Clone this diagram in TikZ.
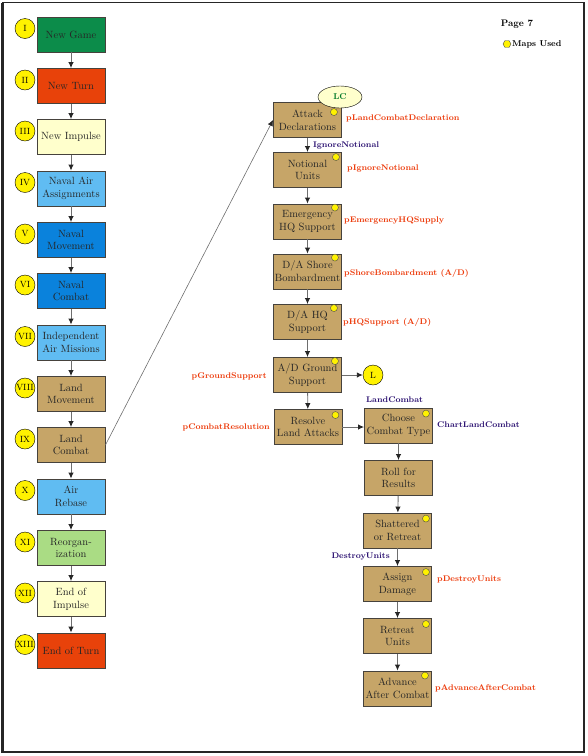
\documentclass[tikz,border=0pt]{standalone}
\usepackage{tikz}
\usetikzlibrary{arrows.meta,shapes.geometric}

\definecolor{gamegreen}{RGB}{12,140,74}
\definecolor{turnred}{RGB}{232,66,10}
\definecolor{paleyel}{RGB}{255,255,204}
\definecolor{airblue}{RGB}{96,188,242}
\definecolor{navblue}{RGB}{10,130,220}
\definecolor{landtan}{RGB}{198,165,104}
\definecolor{orggreen}{RGB}{170,220,132}
\definecolor{numyel}{RGB}{255,242,0}
\definecolor{boxline}{RGB}{70,66,60}
\definecolor{arrgray}{RGB}{110,110,110}
\definecolor{labred}{RGB}{236,58,10}
\definecolor{labblue}{RGB}{42,16,112}
\definecolor{lcgreen}{RGB}{0,120,40}

\begin{document}
\begin{tikzpicture}[x=1pt,y=-1pt,
  stepbox/.style={draw=boxline,line width=0.9pt,minimum width=68pt,minimum height=35pt,
    text width=66pt,inner sep=1pt,align=center,text=black!85,
    font=\fontsize{10.5}{12.8}\selectfont},
  numdot/.style={draw,circle,fill=numyel,minimum size=20pt,inner sep=0pt,
    font=\fontsize{9}{9}\selectfont},
  mapdot/.style={draw=black!70,circle,fill=numyel,minimum size=7pt,inner sep=0pt},
  redlab/.style={text=labred,inner sep=0pt,font=\bfseries\fontsize{8.2}{9}\selectfont},
  bluelab/.style={text=labblue,inner sep=0pt,font=\bfseries\fontsize{8.2}{9}\selectfont},
  flow/.style={-{Latex[length=6pt,width=5.5pt,color=black!85]},draw=arrgray,line width=0.9pt}]

  % page and legend
  \useasboundingbox (0,0) rectangle (588,756);
  \draw[black!85,line width=1pt] (2.5,2.5) rectangle (584,752);
  \draw[black!85,line width=2.6pt] (2.5,2.5) -- (2.5,752) -- (584,752) -- (584,2.5);
  \node[inner sep=0pt,font=\bfseries\fontsize{9.5}{10}\selectfont] (P7) at (517,24) {Page 7};
  \node[draw=black!70,regular polygon,regular polygon sides=6,fill=numyel,minimum size=8pt,inner sep=0pt] (MD) at (507,44) {};
  \node[inner sep=0pt,anchor=west,font=\bfseries\fontsize{8.5}{9}\selectfont] (MU) at (512,44) {Maps Used};

  % sequence of play
  \node[stepbox,fill=gamegreen] (N1) at (71,34.5) {New Game};
  \node[stepbox,fill=turnred] (N2) at (71,86) {New Turn};
  \node[stepbox,fill=paleyel] (N3) at (71,137) {New Impulse};
  \node[stepbox,fill=airblue] (N4) at (71,188.5) {Naval Air\\Assignments};
  \node[stepbox,fill=navblue] (N5) at (71,240) {Naval\\Movement};
  \node[stepbox,fill=navblue] (N6) at (71,291) {Naval\\Combat};
  \node[stepbox,fill=airblue] (N7) at (71,342.5) {Independent\\Air Missions};
  \node[stepbox,fill=landtan] (N8) at (71,394) {Land\\Movement};
  \node[stepbox,fill=landtan] (N9) at (71,445) {Land\\Combat};
  \node[stepbox,fill=airblue] (N10) at (71,496.5) {Air\\Rebase};
  \node[stepbox,fill=orggreen] (N11) at (71,548) {Reorgan-\\ization};
  \node[stepbox,fill=paleyel] (N12) at (71,599) {End of\\Impulse};
  \node[stepbox,fill=turnred] (N13) at (71,650.5) {End of Turn};

  \node[numdot] (R1) at (25,28.5) {I};
  \node[numdot] (R2) at (25,80) {II};
  \node[numdot] (R3) at (25,131) {III};
  \node[numdot] (R4) at (25,182.5) {IV};
  \node[numdot] (R5) at (25,234) {V};
  \node[numdot] (R6) at (25,285) {VI};
  \node[numdot] (R7) at (25,336.5) {VII};
  \node[numdot] (R8) at (25,388) {VIII};
  \node[numdot] (R9) at (25,439) {IX};
  \node[numdot] (R10) at (25,490.5) {X};
  \node[numdot] (R11) at (25,542) {XI};
  \node[numdot] (R12) at (25,593) {XII};
  \node[numdot] (R13) at (25,644.5) {XIII};

  \path (N1) edge[flow] (N2)  (N2) edge[flow] (N3)  (N3) edge[flow] (N4)
    (N4) edge[flow] (N5)  (N5) edge[flow] (N6)  (N6) edge[flow] (N7)
    (N7) edge[flow] (N8)  (N8) edge[flow] (N9)  (N9) edge[flow] (N10)
    (N10) edge[flow] (N11)  (N11) edge[flow] (N12)  (N12) edge[flow] (N13);

  % land combat steps
  \node[stepbox,fill=landtan] (A1) at (307.5,120) {Attack\\Declarations};
  \node[stepbox,fill=landtan] (A2) at (307.5,170) {Notional\\Units};
  \node[stepbox,fill=landtan] (A3) at (307.5,221.5) {Emergency\\HQ Support};
  \node[stepbox,fill=landtan] (A4) at (307.5,271.5) {D/A Shore\\Bombardment};
  \node[stepbox,fill=landtan] (A5) at (307.5,322) {D/A HQ\\Support};
  \node[stepbox,fill=landtan] (A6) at (307.5,375) {A/D Ground\\Support};
  \node[stepbox,fill=landtan] (A7) at (308,427) {Resolve\\Land Attacks};
  \node[stepbox,fill=landtan] (B1) at (398.5,425.5) {Choose\\Combat Type};
  \node[stepbox,fill=landtan] (B2) at (398.5,478) {Roll for\\Results};
  \node[stepbox,fill=landtan] (B3) at (397.5,530.5) {Shattered\\or Retreat};
  \node[stepbox,fill=landtan] (B4) at (397.5,584) {Assign\\Damage};
  \node[stepbox,fill=landtan] (B5) at (397.5,636) {Retreat\\Units};
  \node[stepbox,fill=landtan] (B6) at (397.5,688.5) {Advance\\After Combat};

  \node[draw,ellipse,fill=paleyel,minimum width=44pt,minimum height=22pt,inner sep=0pt,
    text=lcgreen,font=\bfseries\fontsize{8.5}{9}\selectfont] (LC) at (340,97) {LC};
  \node[numdot] (L) at (373,375) {L};

  \node[mapdot] (M1) at ([shift={(-8,10)}]A1.north east) {};
  \node[mapdot] (M2) at ([shift={(-6,5)}]A2.north east) {};
  \node[mapdot] (M3) at ([shift={(-7,4)}]A3.north east) {};
  \node[mapdot] (M4) at ([shift={(-7,4)}]A4.north east) {};
  \node[mapdot] (M5) at ([shift={(-8,4)}]A5.north east) {};
  \node[mapdot] (M6) at ([shift={(-7,4)}]A6.north east) {};
  \node[mapdot] (M7) at ([shift={(-7,6)}]A7.north east) {};
  \node[mapdot] (M8) at ([shift={(-7,6)}]B1.north east) {};
  \node[mapdot] (M10) at ([shift={(-6,6)}]B3.north east) {};
  \node[mapdot] (M11) at ([shift={(-6,6)}]B4.north east) {};
  \node[mapdot] (M12) at ([shift={(-6,6)}]B5.north east) {};
  \node[mapdot] (M13) at ([shift={(-7,5)}]B6.north east) {};

  % procedure names
  \node[redlab,anchor=west] (T1) at (346,118) {pLandCombatDeclaration};
  \node[redlab,anchor=west] (T2) at (347,168.5) {pIgnoreNotional};
  \node[redlab,anchor=west] (T3) at (344,220.5) {pEmergencyHQSupply};
  \node[redlab,anchor=west] (T4) at (344,273) {pShoreBombardment (A/D)};
  \node[redlab,anchor=west] (T5) at (343,322.5) {pHQSupport (A/D)};
  \node[redlab,anchor=east] (T6) at (267,376) {pGroundSupport};
  \node[redlab,anchor=east] (T7) at (270,427) {pCombatResolution};
  \node[redlab,anchor=west] (T8) at (437,580) {pDestroyUnits};
  \node[redlab,anchor=west] (T9) at (435,688) {pAdvanceAfterCombat};
  \node[bluelab,anchor=west] (S1) at (313,145) {IgnoreNotional};
  \node[bluelab,anchor=west] (S2) at (366,400) {LandCombat};
  \node[bluelab,anchor=west] (S3) at (437,424.5) {ChartLandCombat};
  \node[bluelab,anchor=east] (S4) at (390,557) {DestroyUnits};

  \path (A1) edge[flow] (A2)  (A2) edge[flow] (A3)  (A3) edge[flow] (A4)
    (A4) edge[flow] (A5)  (A5) edge[flow] (A6)  (A6) edge[flow] (A7)
    (A6) edge[flow] (L)  (A7.east) edge[flow] (B1.west|-A7.east)
    (B1) edge[flow] (B2)  (B2) edge[flow] (B3)  (B3) edge[flow] (B4)
    (B4) edge[flow] (B5)  (B5) edge[flow] (B6);
  \path (N9.east) edge[flow,line width=0.6pt] (A1.west);
\end{tikzpicture}
\end{document}
